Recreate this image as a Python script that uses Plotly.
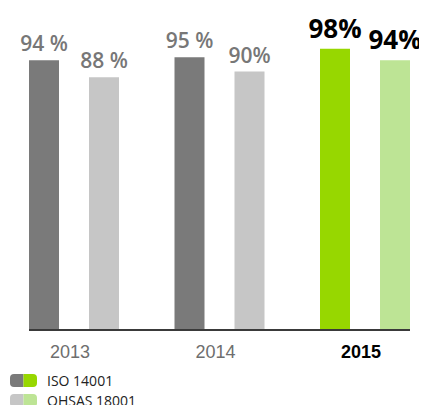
import plotly.graph_objects as go

years = ["2013", "2014", "2015"]
iso_values = [94, 95, 98]
ohsas_values = [88, 90, 94]
iso_labels = ["94 %", "95 %", "<b>98%</b>"]
ohsas_labels = ["88 %", "90%", "<b>94%</b>"]
iso_colors = ["#7a7a7a", "#7a7a7a", "#97d700"]
ohsas_colors = ["#c6c6c6", "#c6c6c6", "#bde495"]
label_colors = ["#777777", "#777777", "#000000"]
label_sizes = [21, 21, 26]
tick_text = ["<span style='color:#6e6e6e'>2013</span>",
             "<span style='color:#6e6e6e'>2014</span>",
             "<b><span style='color:#000000'>2015</span></b>"]
legend_names = ["ISO 14001", "OHSAS 18001"]
legend_colors = [("#7a7a7a", "#97d700"), ("#c6c6c6", "#bde495")]

# the page body has an 8px default margin; compensate so the plot sits where the reference does
OFF = 8
W, H = 427 - OFF, 405 - OFF
L, R, T, B = 29 - OFF, 17, 20 - OFF, 76
pw, ph = W - L - R, H - T - B
FONT = "Open Sans"

fig = go.Figure()
for vals, labels, cols, name in [(iso_values, iso_labels, iso_colors, legend_names[0]),
                                 (ohsas_values, ohsas_labels, ohsas_colors, legend_names[1])]:
    fig.add_trace(go.Bar(
        x=years, y=vals, name=name, text=labels,
        textposition="outside", cliponaxis=False, constraintext="none",
        textfont=dict(family=FONT, size=label_sizes, color=label_colors, weight=600),
        marker=dict(color=cols, line=dict(width=0)),
        showlegend=False, hoverinfo="skip",
    ))

def px2paper(px, py):
    # px, py are window pixel coordinates
    return (px - OFF - L) / pw, (H - B - (py - OFF)) / ph

shapes = []
annotations = []
for i, (name, (c1, c2)) in enumerate(zip(legend_names, legend_colors)):
    top = 374 + i * 20
    bot = top + 13
    x0, xm, x1 = 10, 23.5, 37
    r = 4
    ax0, ay0 = px2paper(x0, top)
    axm, ay1 = px2paper(xm, bot)
    ax1, _ = px2paper(x1, bot)
    rx = r / pw
    ry = r / ph
    pl = (f"M {axm},{ay0} L {ax0+rx},{ay0} Q {ax0},{ay0} {ax0},{ay0-ry} "
          f"L {ax0},{ay1+ry} Q {ax0},{ay1} {ax0+rx},{ay1} L {axm},{ay1} Z")
    pr = (f"M {axm},{ay0} L {ax1-rx},{ay0} Q {ax1},{ay0} {ax1},{ay0-ry} "
          f"L {ax1},{ay1+ry} Q {ax1},{ay1} {ax1-rx},{ay1} L {axm},{ay1} Z")
    shapes.append(dict(type="path", xref="paper", yref="paper", path=pl,
                       fillcolor=c1, line=dict(width=0), layer="above"))
    shapes.append(dict(type="path", xref="paper", yref="paper", path=pr,
                       fillcolor=c2, line=dict(width=0), layer="above"))
    tx, ty = px2paper(45, (top + bot) / 2)
    annotations.append(dict(xref="paper", yref="paper", x=tx, y=ty, text=name,
                            showarrow=False, xanchor="left", yanchor="middle",
                            font=dict(family=FONT, size=14, color="#222222")))

s = 145.5
r0 = -45 / s
r1 = r0 + pw / s

fig.update_layout(
    width=W, height=H,
    margin=dict(l=L, r=R, t=T, b=B, pad=0),
    plot_bgcolor="white", paper_bgcolor="white",
    barmode="group", bargap=1 - 120 / s, bargroupgap=0.5,
    showlegend=False,
    shapes=shapes, annotations=annotations,
    xaxis=dict(type="category", range=[r0, r1], showgrid=False, zeroline=False,
               showline=True, linecolor="#3a3a3a", linewidth=2,
               tickmode="array", tickvals=years, ticktext=tick_text,
               ticks="", ticklabelstandoff=5, ticklabelshift=-4,
               tickfont=dict(family="Liberation Sans", size=18, color="#6e6e6e"),
               fixedrange=True, automargin=False),
    yaxis=dict(range=[0, ph / 2.86], visible=False, showgrid=False,
               zeroline=False, fixedrange=True),
)

fig.write_html("out.html")
